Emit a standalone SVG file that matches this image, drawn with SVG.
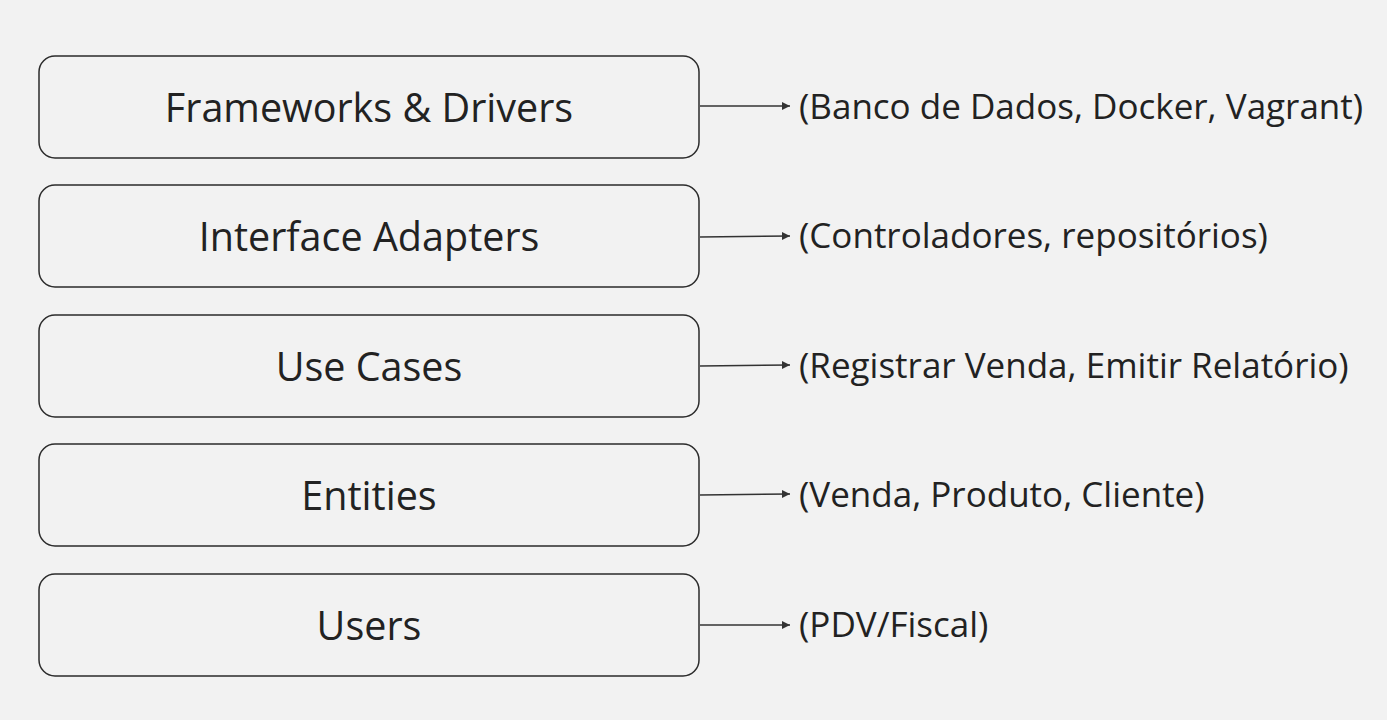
<svg xmlns="http://www.w3.org/2000/svg" width="1387" height="720" viewBox="0 0 1387 720">
<style>
.box{fill:#f2f2f2;stroke:#2b2b2b;stroke-width:1.5}
.t{font-family:"Open Sans",sans-serif;font-size:39.5px;fill:#222;text-anchor:middle}
.l{font-family:"Open Sans",sans-serif;font-size:35px;fill:#222}
.c{stroke:#333;stroke-width:1.5;fill:none}
</style>
<defs>
<marker id="ah" markerWidth="10" markerHeight="10" refX="8" refY="5" orient="auto" markerUnits="userSpaceOnUse">
<path d="M0,1 L8,5 L0,9 Z" fill="#333"/>
</marker>
</defs>
<rect width="1387" height="720" fill="#f2f2f2"/>
<g id="n1"><rect class="box" x="39" y="56" width="660" height="102" rx="16"/><text class="t" x="369" y="122">Frameworks &amp; Drivers</text></g>
<g id="n2"><rect class="box" x="39" y="185" width="660" height="102" rx="16"/><text class="t" x="369" y="251">Interface Adapters</text></g>
<g id="n3"><rect class="box" x="39" y="315" width="660" height="102" rx="16"/><text class="t" x="369" y="381">Use Cases</text></g>
<g id="n4"><rect class="box" x="39" y="444" width="660" height="102" rx="16"/><text class="t" x="369" y="510">Entities</text></g>
<g id="n5"><rect class="box" x="39" y="574" width="660" height="102" rx="16"/><text class="t" x="369" y="640">Users</text></g>
<g id="l1"><text class="l" x="799" y="119">(Banco de Dados, Docker, Vagrant)</text></g>
<g id="l2"><text class="l" x="799" y="248">(Controladores, repositórios)</text></g>
<g id="l3"><text class="l" x="799" y="378">(Registrar Venda, Emitir Relatório)</text></g>
<g id="l4"><text class="l" x="799" y="507">(Venda, Produto, Cliente)</text></g>
<g id="l5"><text class="l" x="799" y="637">(PDV/Fiscal)</text></g>
<g id="connectors">
<line class="c" x1="700" y1="106" x2="790" y2="106" marker-end="url(#ah)"/>
<line class="c" x1="700" y1="237" x2="790" y2="236" marker-end="url(#ah)"/>
<line class="c" x1="700" y1="366" x2="790" y2="365" marker-end="url(#ah)"/>
<line class="c" x1="700" y1="495" x2="790" y2="494" marker-end="url(#ah)"/>
<line class="c" x1="700" y1="625" x2="790" y2="625" marker-end="url(#ah)"/>
</g>
</svg>
